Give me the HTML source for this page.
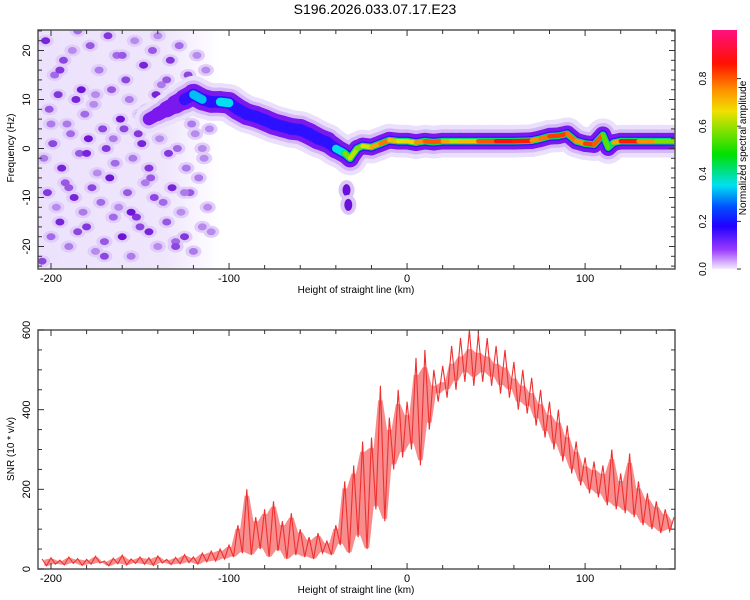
<!DOCTYPE html>
<html><head><meta charset="utf-8"><style>
body{margin:0;background:#fff;}
svg{display:block;font-family:"Liberation Sans",sans-serif;}
</style></head><body>
<svg id="c" width="750" height="600">
<defs>
<linearGradient id="cb" x1="0" y1="1" x2="0" y2="0">
<stop offset="0" stop-color="#f4ecff"/><stop offset="0.08" stop-color="#9b3cff"/><stop offset="0.18" stop-color="#2000ff"/>
<stop offset="0.26" stop-color="#0050ff"/><stop offset="0.35" stop-color="#00e0f0"/><stop offset="0.48" stop-color="#00e000"/>
<stop offset="0.6" stop-color="#a0e000"/><stop offset="0.66" stop-color="#f0e000"/><stop offset="0.75" stop-color="#ff9000"/>
<stop offset="0.86" stop-color="#ff1000"/><stop offset="1" stop-color="#ff1080"/>
</linearGradient>
<linearGradient id="bgfade" x1="0" y1="0" x2="1" y2="0">
<stop offset="0" stop-color="#ece2fc"/><stop offset="0.7" stop-color="#efe6fc"/><stop offset="1" stop-color="#ffffff"/>
</linearGradient>
<clipPath id="clipTop"><rect x="38" y="30" width="637" height="239"/></clipPath>
<clipPath id="clipBot"><rect x="38" y="330" width="637" height="239"/></clipPath>
</defs>
<text x="375" y="14" text-anchor="middle" font-size="14">S196.2026.033.07.17.E23</text>
<g id="topG" clip-path="url(#clipTop)"></g>
<g id="botG" clip-path="url(#clipBot)"></g>
<g id="axes"></g>
<rect x="712" y="30" width="25" height="239" fill="url(#cb)"/>
<text transform="translate(746,148) rotate(-90)" text-anchor="middle" font-size="10">Normalized spectral amplitude</text>
</svg>
<script>
// SNR trace (x from -205 km step 2.5)
const snrStart=-205, snrStep=2.5;
const snrValues=[25,8,28,12,22,10,30,14,26,9,24,12,32,15,20,8,27,13,35,10,25,14,30,12,28,9,33,15,24,11,29,13,36,16,30,12,40,18,45,
20,50,25,60,
30,110,40,200,35,130,50,150,30,170,45,120,25,140,35,100,
30,80,25,90,40,70,35,110,
60,220,40,260,80,320,50,330,
150,460,120,380,250,450,280,420,
300,530,260,550,350,500,420,510,
430,560,450,580,470,600,460,590,470,580,460,560,
440,550,430,520,400,500,390,480,360,450,330,420,
300,400,270,360,240,320,210,280,190,270,180,260,
160,300,150,240,140,290,130,220,110,190,100,170,90,150,95,130];
// spectrogram ridge (height km, freq Hz, amplitude, half-width Hz)
const ridgeX=[-145,-140,-135,-130,-125,-120,-115,-110,-105,-100,-95,-90,-85,-80,-75,-70,-65,-60,-55,-50,-45,-40,-35,-32,-28,-25,-20,-15,-10,-5,0,5,10,15,20,25,30,40,50,60,70,75,80,85,90,95,100,105,110,113,116,120,130,140,150];
const ridgeF=[6,7,8,9,10,11,10,9.5,9.5,9.3,8,7,6.5,5.8,5,4.5,4,3.8,3,2,1.3,0,-1,-2,0,0.5,0.3,1,1.7,1.5,1.5,1.2,1.5,1.3,1.5,1.5,1.5,1.5,1.5,1.5,1.6,2,2.5,2.6,3,1.5,1,0.8,2.8,0.2,1.2,1.5,1.5,1.5,1.5];
const ridgeA=[0.12,0.15,0.18,0.2,0.22,0.4,0.26,0.28,0.35,0.35,0.28,0.26,0.28,0.35,0.27,0.26,0.35,0.28,0.27,0.35,0.28,0.27,0.45,0.7,0.55,0.6,0.7,0.75,0.8,0.6,0.7,0.65,0.85,0.75,0.85,0.6,0.65,0.75,0.85,0.9,0.8,0.7,0.85,0.8,0.85,0.7,0.8,0.85,0.75,0.35,0.6,0.85,0.85,0.65,0.5];
const ridgeW=[1.2,1.3,1.5,1.8,2,2.2,2.2,2.2,2.2,2.2,2.2,2.2,2.2,2.2,2.2,2.2,2.2,2.2,2.2,2.2,2.1,2,1.9,1.8,1.7,1.7,1.7,1.7,1.7,1.7,1.7,1.7,1.7,1.7,1.7,1.7,1.7,1.7,1.7,1.7,1.7,1.7,1.7,1.7,1.7,1.7,1.7,1.7,1.7,1.7,1.7,1.7,1.7,1.7,1.7];
// detached low-frequency spots
const spotX=[-34,-33];
const spotF=[-8.5,-11.5];
// noise blobs
const noiseX=[-203,-198,-193,-188,-183,-178,-173,-168,-163,-158,-153,-148,-143,-138,-133,-128,-123,-118,-113,
-201,-196,-191,-186,-181,-176,-171,-166,-161,-156,-151,-146,-141,-136,-131,-126,-121,-116,-111,
-204,-199,-194,-189,-184,-179,-174,-169,-164,-159,-154,-149,-144,-139,-134,-129,-124,-119,-114,
-202,-197,-192,-187,-182,-177,-172,-167,-162,-157,-152,-147,-142,-137,-132,-127,-122,-117,-112,
-200,-195,-190,-185,-180,-175,-170,-165,-160,-155,-150,-145,-140,-135,-130,-125,-120,-115,-110,
-205,-200,-195,-190,-185,-180,-175,-170,-165,-160,-155,-150,-145,-140,-135,-130,-125,-120,-115];
const noiseF=[22,15,18,20,12,21,16,23,19,14,22,17,20,13,18,21,15,19,16,
8,11,5,10,7,9,4,12,6,10,3,8,11,6,9,7,5,10,4,
-2,1,-4,3,-1,2,-5,0,-3,4,-2,1,-6,2,-1,0,-4,3,-2,
-9,-12,-7,-10,-13,-8,-11,-6,-12,-9,-14,-7,-10,-11,-8,-13,-9,-6,-12,
-18,-15,-20,-17,-16,-21,-19,-14,-18,-22,-16,-17,-20,-15,-19,-18,-21,-16,-17,
-23,5,16,-8,24,-1,11,-22,2,19,-13,7,-4,23,14,-20,-9,9,0];
const noiseA=[0.9,0.5,0.7,0.3,1,0.6,0.4,0.8,0.5,0.7,0.3,0.9,0.6,0.4,0.8,0.5,0.7,0.3,0.3,
0.6,0.8,0.4,0.9,0.5,0.3,0.7,0.6,1,0.4,0.8,0.5,0.9,0.3,0.7,0.6,0.4,0.5,0.3,
0.4,0.7,0.9,0.5,0.6,1,0.3,0.8,0.5,0.7,0.4,0.9,0.6,0.3,0.8,0.5,0.4,0.3,0.3,
0.8,0.3,0.6,0.9,0.4,0.7,0.5,1,0.3,0.6,0.8,0.4,0.7,0.5,0.9,0.3,0.6,0.4,0.3,
0.5,0.9,0.4,0.7,0.8,0.3,0.6,0.5,1,0.4,0.7,0.9,0.3,0.6,0.5,0.8,0.4,0.3,0.3,
0.7,0.4,0.8,0.6,0.5,0.9,0.3,0.7,0.4,0.6,1,0.5,0.8,0.3,0.6,0.7,0.4,0.5,0.3];
const xTicks=[-200,-100,0,100];
const fTicks=[-20,-10,0,10,20];
const sTicks=[0,200,400,600];
const cbTicks=[0,0.2,0.4,0.6,0.8];

const NS='http://www.w3.org/2000/svg';
function mk(t,a,p){const e=document.createElementNS(NS,t);for(const k in a)e.setAttribute(k,a[k]);p.appendChild(e);return e;}
const X0=-207.3,X1=150.5,L=38,R=675;
const sx=v=>L+(v-X0)/(X1-X0)*(R-L);
const sf=v=>148.5-(v)*4.9;
const ss=v=>569-v/600*239;
const cmapStops=[[0,[244,236,255]],[0.08,[155,60,255]],[0.18,[32,0,255]],[0.26,[0,80,255]],[0.35,[0,224,240]],[0.48,[0,224,0]],[0.6,[160,224,0]],[0.66,[240,224,0]],[0.75,[255,144,0]],[0.86,[255,16,0]],[1,[255,16,128]]];
function cmap(v){for(let i=1;i<cmapStops.length;i++){if(v<=cmapStops[i][0]){const a=cmapStops[i-1],b=cmapStops[i];const t=(v-a[0])/(b[0]-a[0]);return 'rgb('+a[1].map((c,j)=>Math.round(c+(b[1][j]-c)*t)).join(',')+')';}}return 'rgb(255,16,128)';}
function purple(a){const c0=[214,190,248],c1=[110,20,215];return 'rgb('+c0.map((c,j)=>Math.round(c+(c1[j]-c)*a)).join(',')+')';}

const topG=document.getElementById('topG');
const bg=mk('rect',{x:L,y:30,width:sx(-105)-L,height:239,fill:'url(#bgfade)'},topG);


noiseX.forEach((x,i)=>{
  const h=mk('ellipse',{cx:sx(x),cy:sf(noiseF[i]),rx:8,ry:6,fill:'#e0cdf9'},topG);
  
  
});
noiseX.forEach((x,i)=>{
  const e=mk('ellipse',{cx:sx(x),cy:sf(noiseF[i]),rx:4.5,ry:3.5,fill:purple(noiseA[i])},topG);
  
  
});
function seg(i,width,color,name,op){
  const s=mk('line',{x1:sx(ridgeX[i]),y1:sf(ridgeF[i]),x2:sx(ridgeX[i+1]),y2:sf(ridgeF[i+1]),stroke:color,'stroke-width':width,'stroke-linecap':'round','stroke-opacity':op},topG);
  
  
}
const layers=[
  [w=>w+16,a=>'#ebe0fc',0,'ridge-halo',1],
  [w=>w+7,a=>'#d4b8f7',0,'ridge-glow',1],
  [w=>w,a=>'#7a18ee',0,'ridge-purple',1],
  [w=>w*0.55,a=>'#2a10ff',0.22,'ridge-blue',0.85],
  [w=>w*0.4,a=>cmap(Math.min(a,0.42)),0.33,'ridge-cyan',1],
  [w=>w*0.26,a=>cmap(a),0.5,'ridge-core',1]];
layers.forEach(([wf,cf,th,nm,op])=>{
  for(let i=0;i<ridgeX.length-1;i++){
    const a=(ridgeA[i]+ridgeA[i+1])/2;
    if(a<th)continue;
    const w=(ridgeW[i]+ridgeW[i+1])*4.9;
    seg(i,wf(w),cf(a),nm,op);
  }
});
spotX.forEach((x,i)=>{
  const h=mk('ellipse',{cx:sx(x),cy:sf(spotF[i]),rx:8,ry:10,fill:'#dcc6f8'},topG);
  
  
  const e=mk('ellipse',{cx:sx(x),cy:sf(spotF[i]),rx:4,ry:6,fill:'#6a10d8'},topG);
  
  
});

const botG=document.getElementById('botG');
const upper=[],lower=[];
for(let i=0;i<snrValues.length-1;i++){
  const xm=sx(snrStart+(i+0.5)*snrStep);
  upper.push(xm.toFixed(1)+','+ss(Math.max(snrValues[i],snrValues[i+1])*0.92).toFixed(1));
  lower.unshift(xm.toFixed(1)+','+ss(Math.min(snrValues[i],snrValues[i+1])*1.05).toFixed(1));
}
const band=mk('polygon',{points:upper.concat(lower).join(' '),fill:'#f03030','fill-opacity':0.55},botG);


const pts=snrValues.map((v,i)=>sx(snrStart+i*snrStep).toFixed(1)+','+ss(v).toFixed(1)).join(' ');
const pl=mk('polyline',{points:pts,fill:'none',stroke:'#f03030','stroke-width':1.1},botG);



const ax=document.getElementById('axes');
function frame(y0,y1,name){const r=mk('rect',{x:L,y:y0,width:R-L,height:y1-y0,fill:'none',stroke:'#555','stroke-width':1.5},ax);}
frame(30,269,'spectrogram-frame');frame(330,569,'snr-frame');
function xAxis(y0,y1,nm){
  for(let v=-200;v<=150;v+=20){const x=sx(v),len=(v%100===0)?6:4;
    mk('line',{x1:x,y1:y1,x2:x,y2:y1-len,stroke:'#333'},ax);mk('line',{x1:x,y1:y0,x2:x,y2:y0+len,stroke:'#333'},ax);}
  xTicks.forEach(v=>{const t=mk('text',{x:sx(v),y:y1+13,'text-anchor':'middle','font-size':11},ax);t.textContent=v;
    
    });
  const t=mk('text',{x:356,y:y1+24,'text-anchor':'middle','font-size':10},ax);t.textContent='Height of straight line (km)';
  
  
}
xAxis(30,269,'x-axis-title-top');xAxis(330,569,'x-axis-title-bottom');
for(let v=-24;v<=24;v+=2){const y=sf(v),len=v%10===0?6:4;mk('line',{x1:L,y1:y,x2:L+len,y2:y,stroke:'#333'},ax);mk('line',{x1:R,y1:y,x2:R-len,y2:y,stroke:'#333'},ax);}
fTicks.forEach(v=>{const t=mk('text',{transform:`translate(30,${sf(v)}) rotate(-90)`,'text-anchor':'middle','font-size':11},ax);t.textContent=v;
  
  });
for(let v=0;v<=600;v+=50){const y=ss(v),len=v%200===0?6:4;mk('line',{x1:L,y1:y,x2:L+len,y2:y,stroke:'#333'},ax);mk('line',{x1:R,y1:y,x2:R-len,y2:y,stroke:'#333'},ax);}
sTicks.forEach(v=>{const t=mk('text',{transform:`translate(30,${ss(v)}) rotate(-90)`,'text-anchor':'middle','font-size':11},ax);t.textContent=v;
  
  });
let tl=mk('text',{transform:'translate(14,148) rotate(-90)','text-anchor':'middle','font-size':10},ax);tl.textContent='Frequency (Hz)';


tl=mk('text',{transform:'translate(14,449) rotate(-90)','text-anchor':'middle','font-size':10},ax);tl.textContent='SNR (10 * v/v)';


cbTicks.forEach(v=>{const y=269-v*238;
  mk('line',{x1:737,y1:y,x2:741,y2:y,stroke:'#333'},ax);
  const tt=mk('text',{transform:`translate(706,${y}) rotate(-90)`,'text-anchor':'middle','font-size':10},ax);tt.textContent=v.toFixed(1);
  
  });
</script>
</body></html>
